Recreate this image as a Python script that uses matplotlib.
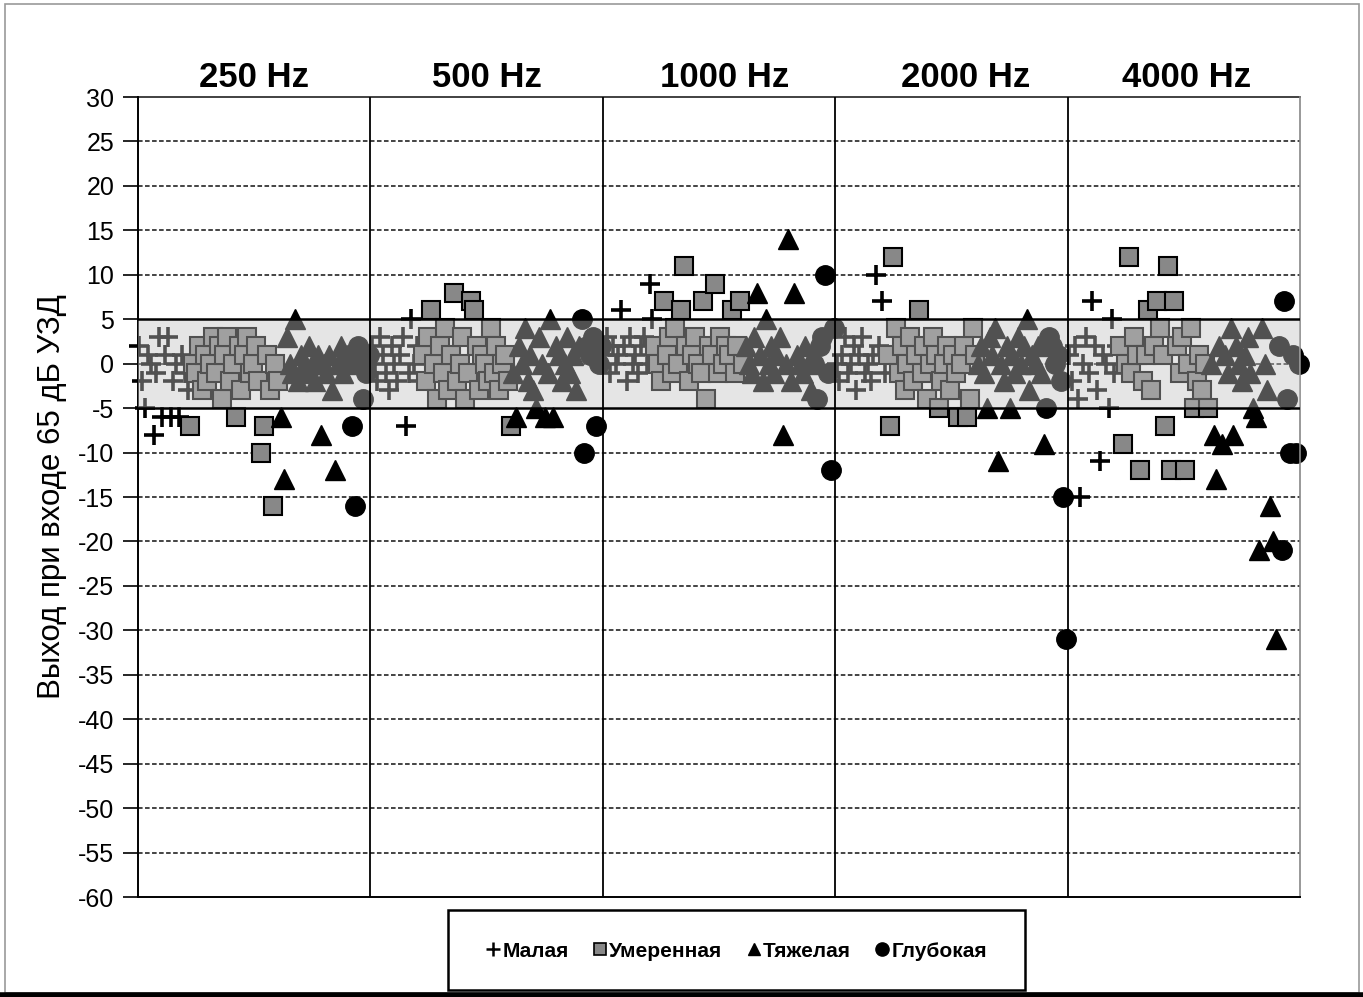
import numpy as np
import matplotlib
matplotlib.use("Agg")
import matplotlib.pyplot as plt
from matplotlib.lines import Line2D
from matplotlib.patches import Rectangle

plt.rcParams['font.family'] = ['Liberation Sans', 'DejaVu Sans']
plt.rcParams['axes.unicode_minus'] = False

# Frequencies (one panel each) and hearing-loss groups
freqs = ['250 Hz', '500 Hz', '1000 Hz', '2000 Hz', '4000 Hz']
groups = ['Малая', 'Умеренная', 'Тяжелая', 'Глубокая']

# Output at 65 dB SPL input, dB, per frequency for each group
mild = [
    [2, -2, -5, 1, 0, -8, -1, 3, -6, 1, 3, -6, -2, 0, -6, 1, -1, -3],
    [2, 0, -2, 3, 1, -1, -3, 2, 0, -2, 1, 3, -7, -1, 5, 0, 2, -2],
    [1, 3, -1, 2, 0, 1, 6, 2, -2, 3, 0, 1, -1, 2, 3, 0, 9, 5],
    [0, -2, 1, 3, -1, 0, 2, -3, 1, 3, -1, 0, -2, 1, 10, 2, 7, -1],
    [1, -2, 2, -4, -15, 0, 3, -1, 7, 2, -3, -11, 1, 0, -5, 5, -1, 2],
]
moderate = [
    [-7, 0, -1, 2, -3, 1, -2, 0, 3, -1, 2, -4, 1, 3, -2, 0, -6, 2, -3, 1,
     3, -1, 0, 2, -2, -10, -7, 1, -3, -16, 0, -2],
    [1, -2, 3, 6, 0, -4, 2, -1, 4, -3, 1, 8, -2, 0, 3, -4, -1, 7, 6, 2,
     -3, 1, 0, -2, 4, -1, 2, -3, 0, 1, -2, -7],
    [2, 0, -2, 7, 1, 3, -1, 4, 0, 6, 11, 2, -2, 1, 3, 0, -1, 7, -4, 2,
     1, 9, -1, 3, 0, 2, 1, 6, -1, 2, 7, 0],
    [1, -7, 12, 4, -1, 2, -3, 0, 3, -2, 1, 6, -1, 2, -4, 0, 3, 1, -5, -2,
     0, 2, -3, 1, -1, -6, 0, 2, -6, -4, 4, 1],
    [2, -9, 0, 12, -1, 3, 1, -12, -2, 1, 6, -3, 2, 7, 4, 1, -7, 11, -12, 7,
     2, -1, 3, -12, 0, 4, -5, -2, 1, -3, 0, -5],
]
severe = [
    [-6, -13, 3, 0, -1, 5, -2, 1, 0, -1, 2, 0, -2, 1, -8, 0, -1, 1, -3, -12,
     0, 2, -1, 0],
    [-1, -6, 2, 0, 4, -2, 1, -3, -5, 3, 0, -6, -1, 5, -6, 2, 1, -2, 0, 3,
     -1, 1, -3, 2],
    [2, 0, -1, 3, 8, 1, -2, 5, 0, 2, -1, 1, 3, -8, 0, 14, -2, 8, 1, 0,
     -1, 2, 0, -3],
    [0, 2, -1, -5, 3, 1, 4, -11, 0, -2, 2, -5, 1, -1, 3, 0, 2, 5, -3, 1,
     0, 2, -1, -9],
    [0, -8, -13, 2, -9, 1, -1, 4, -8, 2, 0, -2, 1, 3, -1, -5, -6, -21, 4, 0,
     -3, -16, -20, -31],
]
profound = [
    [1, -7, -16, 2, 0, -4, -1, 1],
    [5, -10, 2, 1, 3, -7, 0, 2],
    [0, -4, 2, 3, 10, -1, -12, 4],
    [-5, 3, 2, 0, 1, -2, -15, -31],
    [2, -21, 7, -4, -10, 1, -10, 0],
]

yticks = list(range(-60, 31, 5))

fig = plt.figure(figsize=(13.63, 9.97), dpi=100)
ax = fig.add_axes([0.1012, 0.1003, 0.8526, 0.8024])

n_panel = len(mild[0]) + len(moderate[0]) + len(severe[0]) + len(profound[0])

styles = [
    dict(marker='+', color='black', markersize=15, markeredgewidth=2.6, linestyle='none'),
    dict(marker='s', markerfacecolor='#888888', markeredgecolor='black',
         markersize=12.8, markeredgewidth=1.5, linestyle='none'),
    dict(marker='^', color='black', markersize=14, linestyle='none'),
    dict(marker='o', color='black', markersize=14, linestyle='none'),
]

for p in range(len(freqs)):
    start = p * n_panel
    for series, st in zip([mild, moderate, severe, profound], styles):
        vals = series[p]
        xs = start + np.arange(len(vals)) + 0.5
        ax.plot(xs, vals, zorder=2, clip_on=False, **st)
        start += len(vals)

total = n_panel * len(freqs)
ax.set_xlim(0, total)
ax.set_ylim(-60, 30)

# normal-range band drawn over the markers
ax.axhspan(-5, 5, facecolor='#c3c3c3', alpha=0.42, linewidth=0, zorder=3)
for yb in (-5, 5):
    ax.axhline(yb, color='black', linewidth=1.8, zorder=4)

# horizontal grid
for y in yticks:
    if y in (-60, -5, 5):
        continue
    if y == 30:
        ax.axhline(y, color='#333333', linewidth=1.3, zorder=1, clip_on=False)
    else:
        ax.axhline(y, color='#111111', linewidth=1.1, linestyle=(0, (3, 1.6)), zorder=1)

# panel separators
for p in range(1, len(freqs)):
    ax.axvline(p * n_panel, color='black', linewidth=1.3, zorder=5)

# panel titles
title_shift = [0, 0, 2, 5, 1]
for p, f in enumerate(freqs):
    ax.text(p * n_panel + n_panel / 2 + title_shift[p], 31.1, f,
            ha='center', va='baseline', fontsize=25, fontweight='bold')

ax.set_xticks([])
ax.set_yticks(yticks)
ax.set_yticklabels([str(v) for v in yticks], fontsize=18)
ax.tick_params(axis='y', direction='out', length=11, width=1.2, pad=6, color='black')
ax.spines['top'].set_visible(False)
ax.spines['right'].set_color('#888888')
ax.spines['right'].set_linewidth(1.2)
ax.spines['left'].set_linewidth(1.4)
ax.spines['bottom'].set_linewidth(1.4)
ax.set_ylabel('Выход при входе 65 дБ УЗД', fontsize=22.5, labelpad=8)

# legend box
fig.patches.append(Rectangle((448 / 1363, 1 - 990 / 997), 577 / 1363, 80 / 997,
                             transform=fig.transFigure, fill=False,
                             edgecolor='black', linewidth=1.8))
handles = [
    Line2D([], [], marker='+', color='black', markersize=10, markeredgewidth=1.8, linestyle='none'),
    Line2D([], [], marker='s', markerfacecolor='#888888', markeredgecolor='black',
           markersize=8, markeredgewidth=1.2, linestyle='none'),
    Line2D([], [], marker='^', color='black', markersize=9, linestyle='none'),
    Line2D([], [], marker='o', color='black', markersize=9.5, linestyle='none'),
]
fig.legend(handles, groups, loc='center', bbox_to_anchor=(737 / 1363, 1 - 951 / 997),
           ncol=4, frameon=False, handlelength=0.6, handletextpad=0.15,
           columnspacing=1.2, prop=dict(size=15, weight='bold'))

# outer frame
fig.patches.append(Rectangle((5 / 1363, 0.004), 1354 / 1363, 0.992,
                             transform=fig.transFigure, fill=False,
                             edgecolor='#999999', linewidth=1.2))
fig.add_artist(Line2D([0, 1], [0.0025, 0.0025], transform=fig.transFigure,
                      color='black', linewidth=4))

fig.savefig('out.png', dpi=100)
